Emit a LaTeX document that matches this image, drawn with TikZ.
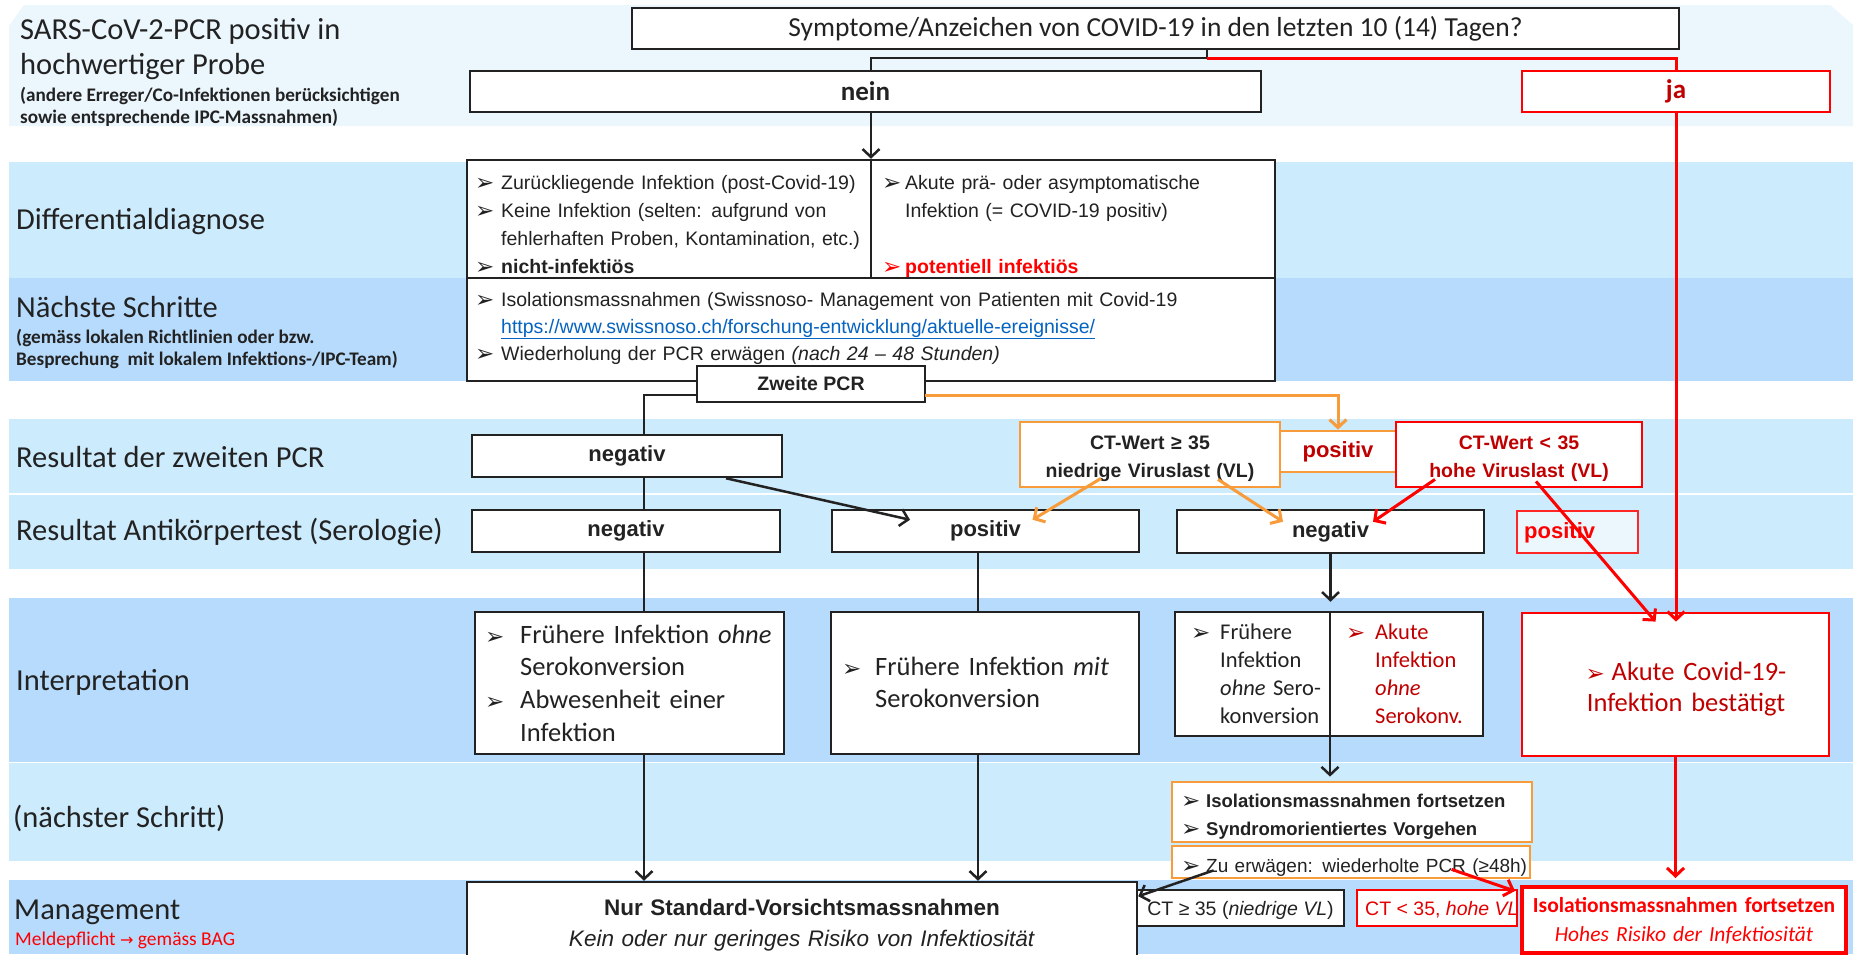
\documentclass[tikz,border=0pt]{standalone}
\usepackage{fontspec}
\usepackage{graphicx}
\setmainfont{Carlito}
\newfontfamily\arialf{Liberation Sans}
\newfontfamily\dejavuf{DejaVu Sans}
\usetikzlibrary{arrows.meta,calc}
\definecolor{bandA}{HTML}{EBF6FD}
\definecolor{bandL}{HTML}{CCEBFD}
\definecolor{bandM}{HTML}{B7DBFC}
\definecolor{orng}{HTML}{F79B3B}
\definecolor{dred}{HTML}{C00000}
\definecolor{lnk}{HTML}{0563C1}
\definecolor{ink}{HTML}{222222}
\newcommand{\fs}[2]{\fontsize{#1}{#2}\selectfont}
\newcommand{\bul}[1]{\makebox[#1][l]{\raisebox{-1pt}{\dejavuf\fontsize{23}{23}\selectfont ➢}}}
\begin{document}
\begin{tikzpicture}[x=1pt,y=-1pt,
  box/.style={draw=ink, line width=2.5pt, fill=white, inner sep=0pt, text=ink},
  rbox/.style={draw=red, line width=2.8pt, fill=white, inner sep=0pt},
  obox/.style={draw=orng, line width=2.8pt, fill=white, inner sep=0pt},
  conn/.style={draw=ink, line width=2.5pt},
  rconn/.style={draw=red, line width=3pt},
  oconn/.style={draw=orng, line width=3pt},
  arr/.style={-{Straight Barb[length=8pt,width=17pt]}},
  lbl/.style={anchor=west, inner sep=0pt, text=ink, font=\fs{30.5}{36}},
  lbls/.style={anchor=west, inner sep=0pt, text=ink, font=\bfseries\fs{19.2}{22}},
  txt/.style={anchor=base west, inner sep=0pt, align=left, text=ink},
  ctxt/.style={anchor=base, inner sep=0pt, align=center, text=ink},
]
\useasboundingbox (0,0) rectangle (1853,954);
\fill[white] (0,0) rectangle (1853,954);
% bands
\fill[bandA] (9,26) -- (24,5) -- (1830,5) -- (1853,25) -- (1853,126) -- (9,126) -- cycle;
\fill[bandL] (9,162) rectangle (1853,278);
\fill[bandM] (9,278) rectangle (1853,381);
\fill[bandL] (9,419) rectangle (1853,493);
\fill[bandL] (9,495) rectangle (1853,569);
\fill[bandM] (9,598) rectangle (1853,762);
\fill[bandL] (9,763) rectangle (1853,861);
\fill[bandM] (9,880) rectangle (1853,954);

% left labels
\node[lbl] (l1) at (20,31) {SARS-CoV-2-PCR positiv in};
\node[lbl] (l2) at (20,67) {hochwertiger Probe};
\node[lbls] (l3) at (20,96) {(andere Erreger/Co-Infektionen berücksichtigen};
\node[lbls] (l4) at (20,118) {sowie entsprechende IPC-Massnahmen)};
\node[lbl] (l5) at (16,222) {Differentialdiagnose};
\node[lbl] (l6) at (16,307) {Nächste Schritte};
\node[lbls] (l7) at (16,338) {(gemäss lokalen Richtlinien oder bzw.};
\node[lbls] (l8) at (16,360) {Besprechung\ \ mit lokalem Infektions-/IPC-Team)};
\node[lbl] (l9) at (16,457) {Resultat der zweiten PCR};
\node[lbl] (l10) at (16,532) {Resultat Antikörpertest (Serologie)};
\node[lbl] (l11) at (16,682) {Interpretation};
\node[lbl] (l12) at (13,818) {(nächster Schritt)};
\node[lbl] (l13) at (14,912) {Management};
\node[anchor=west, inner sep=0pt, text=red, font=\fs{19.5}{22}] (l14) at (15,940) {Meldepflicht {\dejavuf\fs{16}{16}→} gemäss BAG};

% top
\node[box, minimum width=1047, minimum height=41, font=\fs{27.5}{33}] (sym) at (1155.5,28.5) {Symptome/Anzeichen von COVID-19 in den letzten 10 (14) Tagen?};
\node[box, minimum width=791, minimum height=41, font=\bfseries\fs{27}{33}] (nein) at (865.5,91.5) {nein};
\node[rbox, minimum width=308, minimum height=41, font=\bfseries\fs{27}{33}, text=dred] (ja) at (1676,91.5) {ja};
\coordinate (stem) at (1207,58);

% differential diagnosis
\node[box, minimum width=808, minimum height=118] (dd) at (871,219) {};
\node[box, minimum width=808, minimum height=103] (ns) at (871,329.5) {};
\node[txt, text width=392, font=\arialf\fs{19.5}{28}] (ddl) at (475,189) {\bul{26pt}Zurückliegende Infektion (post-Covid-19)\\
\bul{26pt}Keine Infektion (selten: aufgrund von\\
\hspace*{26pt}fehlerhaften Proben, Kontamination, etc.)\\
\bul{26pt}\textbf{nicht-infektiös}};
\node[txt, text width=390, font=\arialf\fs{19.5}{28}] (ddr) at (882,189) {\bul{23pt}Akute prä- oder asymptomatische\\
\hspace*{23pt}Infektion (= COVID-19 positiv)\\[28pt]
{\color{red}\bul{23pt}\textbf{potentiell infektiös}}};
\node[txt, text width=795, font=\arialf\fs{19.5}{27}] (nst) at (475,306) {\bul{26pt}Isolationsmassnahmen (Swissnoso- Management von Patienten mit Covid-19\\
\hspace*{26pt}{\color{lnk}\underline{https://www.swissnoso.ch/forschung-entwicklung/aktuelle-ereignisse/}}\\
\bul{26pt}Wiederholung der PCR erwägen \textit{(nach 24 – 48 Stunden)}};
\node[box, minimum width=228, minimum height=36, font=\arialf\bfseries\fs{19.5}{24}] (zp) at (811,384) {Zweite PCR};
\coordinate (zpL) at (697,395);
\coordinate (zpR) at (925,395);
\coordinate (c644) at (644,0);
\coordinate (c978) at (978,0);

% second PCR results
\node[box, minimum width=310, minimum height=42, font=\arialf\bfseries\fs{22}{26}] (neg1) at (627,456) {negativ};
\node[obox, minimum width=116, minimum height=41, font=\arialf\bfseries\fs{22}{26}, text=dred] (pmid) at (1338,451.5) {positiv};
\node[obox, minimum width=260, minimum height=65] (ct1) at (1150,454.5) {};
\node[rbox, minimum width=246, minimum height=65] (ct2) at (1519,454.5) {};
\node[ctxt, text width=250, font=\arialf\bfseries\fs{19.5}{28}] (ct1t) at (1150,449) {CT-Wert ≥ 35\\niedrige Viruslast (VL)};
\node[ctxt, text width=240, font=\arialf\bfseries\fs{19.5}{28}, text=dred] (ct2t) at (1519,449) {CT-Wert < 35\\hohe Viruslast (VL)};

% serology
\node[box, minimum width=308, minimum height=42, font=\arialf\bfseries\fs{22}{26}] (neg2) at (626,531) {negativ};
\node[box, minimum width=307, minimum height=42, font=\arialf\bfseries\fs{22}{26}] (pos1) at (985.5,531) {positiv};
\node[box, minimum width=307, minimum height=43, font=\arialf\bfseries\fs{22}{26}] (neg3) at (1330.5,531.5) {negativ};
\node[draw=red!85, line width=2pt, fill=bandA, minimum width=121, minimum height=42, inner sep=0pt] (rpos) at (1577.5,532) {};
\node[anchor=west, inner sep=0pt, text=red, font=\arialf\bfseries\fs{22}{26}] (rpost) at (1524,533) {positiv};

% interpretation
\node[box, minimum width=309, minimum height=142] (i1) at (629.5,683) {};
\node[txt, text width=300, font=\fs{26.5}{32.7}] (i1t) at (485,643) {\bul{35pt}Frühere Infektion \textit{ohne}\\
\hspace*{35pt}Serokonversion\\
\bul{35pt}Abwesenheit einer\\
\hspace*{35pt}Infektion};
\node[box, minimum width=308, minimum height=142] (i2) at (985,683) {};
\node[txt, text width=295, font=\fs{26.5}{32.7}] (i2t) at (842,675) {\bul{33pt}Frühere Infektion \textit{mit}\\
\hspace*{33pt}Serokonversion};
\node[box, minimum width=308, minimum height=124] (i3) at (1329,674) {};
\node[txt, text width=140, font=\fs{22.5}{28.3}] (i3l) at (1191,639) {\bul{29pt}Frühere\\
\hspace*{29pt}Infektion\\
\hspace*{29pt}\textit{ohne} Sero-\\
\hspace*{29pt}konversion};
\node[txt, text width=135, font=\fs{22.5}{28.3}, text=dred] (i3r) at (1346,639) {\bul{29pt}Akute\\
\hspace*{29pt}Infektion\\
\hspace*{29pt}\textit{ohne}\\
\hspace*{29pt}Serokonv.};
\node[rbox, minimum width=307, minimum height=143] (akute) at (1675.5,684.5) {};
\node[ctxt, text width=290, font=\fs{26.5}{31.5}, text=dred] (akt) at (1686,680) {\bul{26pt}Akute Covid-19-\\Infektion bestätigt};

% next step
\node[obox, minimum width=360, minimum height=60] (ob1) at (1352,812) {};
\node[txt, text width=350, font=\arialf\bfseries\fs{18.5}{28}] (ob1t) at (1181,807) {\bul{25pt}Isolationsmassnahmen fortsetzen\\
\bul{25pt}Syndromorientiertes Vorgehen};
\node[obox, minimum width=358, minimum height=32] (ob2) at (1351,862) {};
\node[txt, text width=350, font=\arialf\fs{19}{24}] (ob2t) at (1181,872) {\bul{25pt}Zu erwägen: wiederholte PCR (≥48h)};

% management
\node[box, minimum width=670, minimum height=78] (std) at (802,921) {};
\node[ctxt, text width=660, font=\arialf\fs{22.5}{31}] (stdt) at (802,915) {\textbf{Nur Standard-Vorsichtsmassnahmen}\\\textit{Kein oder nur geringes Risiko von Infektiosität}};
\node[draw=ink, line width=1.5pt, fill=white, minimum width=207, minimum height=36, inner sep=0pt] (ct3) at (1240.5,908) {};
\node[ctxt, font=\arialf\fs{19.5}{24}] (ct3t) at (1240.5,915) {CT ≥ 35 (\textit{niedrige VL})};
\node[draw=red, line width=1.5pt, fill=white, minimum width=160, minimum height=36, inner sep=0pt] (ct4) at (1437,908) {};
\node[anchor=base west, inner sep=0pt, text=red!90!black, font=\arialf\fs{19.5}{24}] (ct4t) at (1365,915) {CT < 35, \textit{hohe VL}};
\node[draw=red, line width=4pt, fill=white, minimum width=324, minimum height=66, inner sep=0pt] (riso) at (1684,920) {};
\node[ctxt, text width=320, font=\fs{21.5}{29}, text=red] (risot) at (1684,912) {\textbf{Isolationsmassnahmen fortsetzen}\\\textit{Hohes Risiko der Infektiosität}};

% connectors
\draw[conn, line width=1.5pt] (sym.south -| stem) -- (stem);
\draw[conn] (stem) -| ([xshift=5.5pt]nein.north);
\draw[rconn] (stem) -| (ja.north);
\draw[conn, arr] ([xshift=5.5pt]nein.south) -- ([xshift=5.5pt]nein.south |- dd.north);
\draw[conn] (dd.north) -- (dd.south);
\draw[conn] (zpL) -| (neg1.north -| c644);
\draw[conn] (neg1.south -| c644) -- (neg2.north -| c644);
\draw[conn] (neg2.south -| c644) -- (i1.north -| c644);
\draw[conn, arr] (i1.south -| c644) -- (std.north -| c644);
\draw[conn] (pos1.south -| c978) -- (i2.north -| c978);
\draw[conn, arr] (i2.south -| c978) -- (std.north -| c978);
\draw[conn, arr] ($(neg1.south)+(99,0)$) -- ($(pos1.north)+(-75.5,11)$);
\draw[oconn, arr] (zpR) -| (pmid.north);
\draw[oconn, arr] ($(ct1.south)+(-49,-10)$) -- ($(pos1.north)+(47,11)$);
\draw[oconn, arr] ($(ct1.south)+(68,-9)$) -- ($(neg3.north)+(-47.5,13)$);
\draw[rconn, arr] ($(ct2.south)+(-84,-9)$) -- ($(neg3.north)+(42.5,13)$);
\draw[rconn, arr] ($(ct2.south)+(17,-7)$) -- ($(akute.north)+(-20,10)$);
\draw[rconn, arr] (ja.south) -- ($(ja.south |- akute.north)+(0,10)$);
\draw[conn, arr] (neg3.south) -- ($(neg3.south |- i3.north)+(0,-9)$);
\draw[conn] ([xshift=1pt]i3.north) -- ([xshift=1pt]i3.south);
\draw[conn, arr] ([xshift=1pt]i3.south) -- ($([xshift=1pt]i3.south |- ob1.north)+(0,-4)$);
\draw[rconn, arr] (akute.south) -- ($(akute.south |- riso.north)+(0,-7)$);
\draw[conn, arr] ($(ob2.south west)+(43,-9)$) -- ($(ct3.north west)+(2,7)$);
\draw[rconn, arr] ($(ob2.south west)+(281,-10)$) -- ($(riso.north west)+(-5,6)$);
\end{tikzpicture}
\end{document}
